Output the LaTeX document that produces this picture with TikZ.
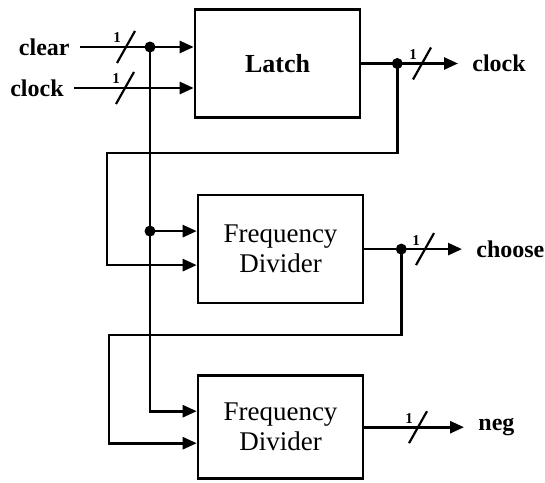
\documentclass[tikz,border=0pt]{standalone}
\usepackage{fontspec}
\setmainfont{Liberation Serif}
\usetikzlibrary{arrows.meta, positioning}
\tikzset{
  bloc/.style={rectangle, draw, line width=1.3pt, minimum width=82.5pt,
    minimum height=54pt, align=center, inner sep=2pt,
    font=\fontsize{13.5}{15}\selectfont},
  fil/.style={line width=1.3pt},
  fleche/.style={fil, -{Triangle[length=7pt, width=6pt]}},
  signal/.style={font=\fontsize{12}{14}\selectfont\bfseries, inner sep=5pt},
  sortie/.style={signal, anchor=west, inner xsep=7pt},
  chiffre/.style={font=\fontsize{7.5}{8}\selectfont\bfseries, inner sep=0pt},
  barre/.style={line width=1.1pt},
  point/.style={circle, fill, inner sep=0pt, minimum size=5.5pt},
}
\begin{document}
\begin{tikzpicture}[x=0.5pt, y=-0.5pt]
  \useasboundingbox (0,0) rectangle (545,482);
  \node[bloc, font=\fontsize{13}{15}\selectfont\bfseries] (latch) at (277.5,63.5) {Latch};
  \node[bloc, below=37.5pt of latch, xshift=1.5pt] (div1) {Frequency\\ Divider};
  \node[bloc, minimum height=51.5pt, below=35pt of div1] (div2) {Frequency\\ Divider};

  % entrees
  \node[signal, anchor=east] (clear) at (80,47) {clear};
  \node[signal, anchor=east] (clockin) at (74,88) {clock};
  \draw[fleche] (clear) -- (clear -| latch.west);
  \draw[fleche] (clockin) -- (clockin -| latch.west);

  % sorties
  \node[sortie] (clockout) at (458,0 |- latch.east) {clock};
  \node[sortie] (choose) at (462,0 |- div1.east) {choose};
  \node[sortie] (neg) at (464,0 |- div2.east) {neg};
  \draw[fleche] (latch) -- (clockout);
  \draw[fleche] (div1) -- (choose);
  \draw[fleche] (div2) -- (neg);

  % points de branchement
  \node[point] (j1) at (150,47) {};
  \coordinate (e1) at ([yshift=9pt]div1.west);
  \coordinate (e2) at ([yshift=-8pt]div1.west);
  \coordinate (e3) at ([yshift=8pt]div2.west);
  \coordinate (e4) at ([yshift=-8pt]div2.west);
  \node[point] (j2) at (j1 |- e1) {};
  \node[point] (j3) at ([xshift=18pt]latch.east) {};
  \node[point] (j4) at ([xshift=18.5pt]div1.east) {};
  \coordinate (r1) at (107,153);
  \coordinate (r2) at (109,335);

  \draw[fleche] (j1.center) |- (e3);
  \draw[fleche] (j2.center) -- (e1);
  \draw[fleche] (j3.center) |- (r1) |- (e2);
  \draw[fleche] (j4.center) |- (r2) |- (e4);

  % largeur des bus
  \coordinate (b1) at (126,47);
  \coordinate (b2) at (125,88);
  \coordinate (b3) at (422,0 |- latch.east);
  \coordinate (b4) at (425,0 |- div1.east);
  \coordinate (b5) at (418,0 |- div2.east);
  \foreach \b in {b1,b2,b3,b4,b5} {
    \draw[barre] ([shift={(-4.5pt,-8pt)}]\b) -- ([shift={(4.5pt,8pt)}]\b);
    \node[chiffre] (un\b) at ([shift={(-4.5pt,4.5pt)}]\b) {1};
  }
\end{tikzpicture}
\end{document}
